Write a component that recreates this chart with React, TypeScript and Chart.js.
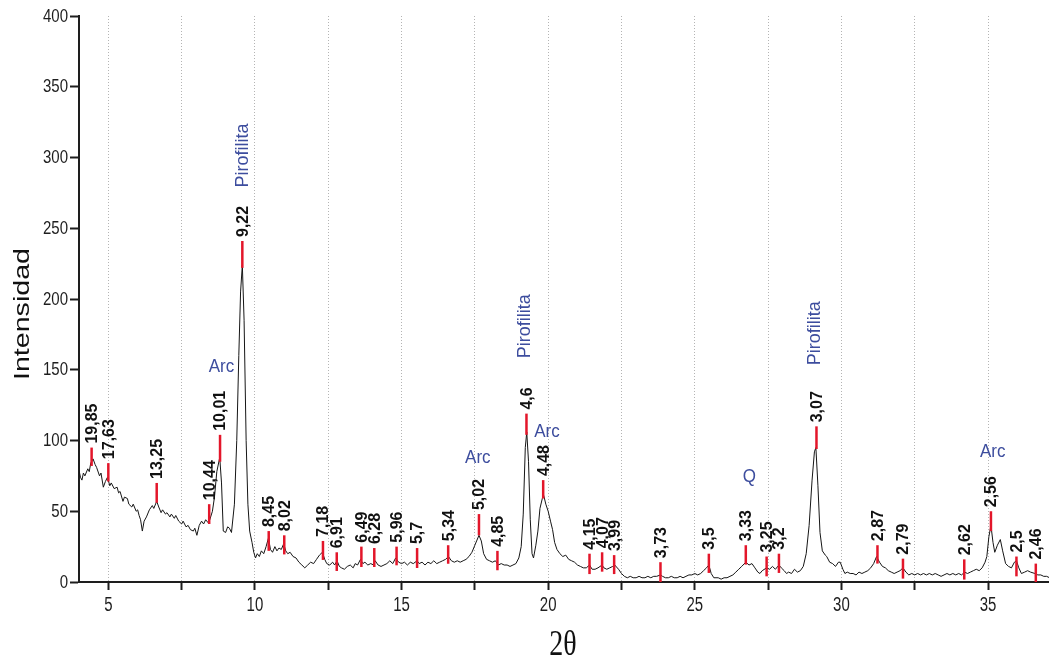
import { useEffect, useRef } from "react";
import { Chart, registerables } from "chart.js";

Chart.register(...registerables);

// ---- axis definition ----
const xRange = [4, 37.08];
const yRange = [0, 400];
const xTickValues = [5, 7.5, 10, 12.5, 15, 17.5, 20, 22.5, 25, 27.5, 30, 32.5, 35];
const xTickLabels = ["5", "", "10", "", "15", "", "20", "", "25", "", "30", "", "35"];
const yTickValues = [0, 50, 100, 150, 200, 250, 300, 350, 400];
const yTickLabels = ["0", "50", "100", "150", "200", "250", "300", "350", "400"];
const xTitle = "2θ";
const yTitle = "Intensidad";

// ---- diffractogram trace: [2θ, intensity] ----
const scan: [number, number][] = [
  [4.0, 79], [4.05, 74], [4.1, 72], [4.15, 77], [4.2, 75], [4.3, 80], [4.35, 78], [4.4, 84], [4.48, 87], [4.55, 83],
  [4.6, 81], [4.7, 75], [4.75, 77], [4.83, 67], [4.9, 71], [4.97, 74], [5.05, 68], [5.1, 70], [5.2, 66], [5.3, 67],
  [5.35, 63], [5.4, 64], [5.5, 57], [5.55, 60], [5.65, 59], [5.7, 55], [5.8, 53], [5.85, 55], [5.95, 50], [6.0, 51],
  [6.05, 47], [6.1, 44], [6.16, 36], [6.22, 43], [6.3, 46], [6.4, 51], [6.5, 54], [6.55, 52], [6.65, 57], [6.72, 53],
  [6.8, 49], [6.85, 51], [6.95, 48], [7.0, 49], [7.1, 46], [7.15, 48], [7.25, 45], [7.3, 47], [7.4, 43], [7.5, 41],
  [7.55, 43], [7.65, 39], [7.72, 40], [7.8, 37], [7.9, 36], [7.95, 38], [8.02, 33], [8.1, 40], [8.18, 43], [8.25, 41],
  [8.32, 44], [8.4, 42], [8.46, 44], [8.55, 50], [8.62, 60], [8.7, 78], [8.8, 88], [8.86, 70], [8.92, 36], [9.0, 35],
  [9.07, 39], [9.13, 38], [9.2, 35], [9.3, 55], [9.38, 100], [9.45, 160], [9.51, 205], [9.57, 224], [9.63, 185], [9.7, 100],
  [9.76, 55], [9.82, 36], [9.9, 28], [9.96, 21], [10.02, 17], [10.08, 20], [10.15, 18], [10.22, 22], [10.3, 20], [10.38, 25],
  [10.46, 31], [10.53, 23], [10.6, 21], [10.68, 25], [10.75, 22], [10.82, 24], [10.9, 23], [10.98, 27], [11.05, 22], [11.12, 20],
  [11.2, 21], [11.3, 18], [11.4, 17], [11.5, 14], [11.6, 12], [11.7, 10], [11.8, 12], [11.9, 14], [12.0, 13], [12.1, 16],
  [12.2, 19], [12.3, 21], [12.38, 16], [12.45, 13], [12.55, 12], [12.65, 14], [12.72, 12], [12.8, 15], [12.88, 11], [12.95, 10],
  [13.05, 9], [13.15, 11], [13.25, 12], [13.35, 10], [13.42, 13], [13.5, 12], [13.6, 16], [13.68, 13], [13.75, 14], [13.85, 12],
  [13.95, 13], [14.05, 12], [14.1, 15], [14.2, 12], [14.3, 11], [14.4, 12], [14.5, 13], [14.6, 15], [14.7, 13], [14.8, 17],
  [14.9, 14], [15.0, 13], [15.1, 14], [15.2, 12], [15.3, 14], [15.4, 13], [15.53, 15], [15.6, 13], [15.7, 14], [15.8, 12],
  [15.9, 14], [16.0, 13], [16.1, 15], [16.2, 13], [16.3, 14], [16.4, 15], [16.5, 16], [16.6, 18], [16.7, 15], [16.8, 14],
  [16.9, 15], [17.0, 14], [17.1, 15], [17.2, 16], [17.3, 18], [17.4, 21], [17.5, 26], [17.64, 33], [17.72, 29], [17.8, 20],
  [17.9, 16], [18.0, 15], [18.1, 14], [18.2, 15], [18.3, 12], [18.4, 13], [18.5, 12], [18.6, 12], [18.7, 11], [18.8, 12],
  [18.9, 13], [19.0, 17], [19.08, 25], [19.15, 48], [19.22, 95], [19.27, 106], [19.33, 85], [19.39, 44], [19.45, 20], [19.5, 17],
  [19.58, 26], [19.65, 36], [19.72, 52], [19.8, 59], [19.85, 61], [19.92, 55], [20.0, 50], [20.08, 43], [20.15, 37], [20.22, 28],
  [20.3, 23], [20.4, 20], [20.5, 18], [20.6, 19], [20.7, 16], [20.8, 15], [20.9, 14], [21.0, 12], [21.1, 11], [21.2, 10],
  [21.3, 10], [21.41, 12], [21.5, 9], [21.6, 9], [21.7, 10], [21.84, 12], [21.9, 10], [22.0, 9], [22.1, 10], [22.2, 11],
  [22.27, 12], [22.4, 9], [22.5, 6], [22.6, 4], [22.7, 3], [22.8, 4], [22.9, 3], [23.0, 3], [23.1, 4], [23.2, 3],
  [23.3, 3], [23.4, 4], [23.5, 3], [23.6, 4], [23.7, 4], [23.83, 5], [23.9, 4], [24.0, 3], [24.1, 3], [24.2, 4],
  [24.3, 3], [24.4, 3], [24.5, 4], [24.6, 3], [24.7, 4], [24.8, 5], [24.9, 5], [25.0, 6], [25.1, 5], [25.2, 6],
  [25.3, 8], [25.4, 10], [25.48, 12], [25.56, 6], [25.65, 3], [25.8, 3], [25.9, 2], [26.0, 3], [26.1, 3], [26.2, 4],
  [26.3, 5], [26.4, 7], [26.5, 9], [26.6, 11], [26.74, 14], [26.85, 12], [26.95, 13], [27.05, 10], [27.15, 7], [27.22, 6],
  [27.3, 8], [27.45, 10], [27.55, 9], [27.65, 11], [27.75, 9], [27.87, 12], [27.95, 10], [28.05, 8], [28.13, 6], [28.2, 7],
  [28.3, 6], [28.4, 9], [28.5, 7], [28.6, 8], [28.7, 11], [28.8, 20], [28.9, 40], [29.0, 72], [29.08, 92], [29.13, 95],
  [29.2, 68], [29.27, 35], [29.35, 22], [29.45, 19], [29.5, 18], [29.6, 14], [29.7, 13], [29.8, 11], [29.9, 14], [29.96, 14],
  [30.05, 9], [30.12, 6], [30.2, 7], [30.3, 6], [30.4, 6], [30.5, 5], [30.6, 7], [30.7, 6], [30.8, 7], [30.9, 8],
  [31.0, 10], [31.1, 13], [31.2, 18], [31.3, 14], [31.4, 11], [31.5, 10], [31.6, 8], [31.7, 7], [31.8, 6], [31.9, 7],
  [32.0, 8], [32.1, 10], [32.2, 7], [32.3, 5], [32.4, 6], [32.5, 5], [32.6, 6], [32.7, 5], [32.8, 6], [32.9, 5],
  [33.0, 6], [33.1, 5], [33.2, 6], [33.3, 5], [33.4, 4], [33.5, 5], [33.6, 6], [33.7, 5], [33.8, 6], [33.9, 5],
  [34.0, 6], [34.1, 5], [34.2, 7], [34.3, 6], [34.4, 7], [34.5, 8], [34.6, 9], [34.7, 8], [34.8, 10], [34.9, 14],
  [34.96, 18], [35.03, 32], [35.1, 40], [35.17, 28], [35.23, 21], [35.32, 26], [35.42, 30], [35.5, 22], [35.6, 13], [35.7, 11],
  [35.8, 10], [35.9, 14], [35.97, 15], [36.05, 10], [36.14, 6], [36.25, 7], [36.35, 8], [36.45, 7], [36.6, 6], [36.7, 5],
  [36.8, 5], [36.9, 4], [37.0, 4], [37.1, 3],
];

// ---- peak markers (d-spacing labels) ----
const peakLabels = ["19,85", "17,63", "13,25", "10,44", "10,01", "9,22", "8,45", "8,02", "7,18", "6,91", "6,49", "6,28",
  "5,96", "5,7", "5,34", "5,02", "4,85", "4,6", "4,48", "4,15", "4,07", "3,99", "3,73", "3,5", "3,33", "3,25", "3,2",
  "3,07", "2,87", "2,79", "2,62", "2,56", "2,5", "2,46"];
const peakAngles = [4.43, 5.0, 6.65, 8.44, 8.81, 9.57, 10.47, 11.0, 12.32, 12.79, 13.63, 14.07,
  14.83, 15.53, 16.59, 17.64, 18.27, 19.26, 19.83, 21.41, 21.84, 22.25, 23.83, 25.48, 26.74, 27.45, 27.87,
  29.15, 31.23, 32.1, 34.19, 35.1, 35.97, 36.63];
const peakTops = [95, 84, 70, 55, 104, 241, 36, 33, 29, 21, 25, 24,
  25, 24, 26, 48, 22, 119, 72, 20, 21, 19, 14, 20, 26, 18, 20,
  110, 26, 16.5, 16, 50, 18, 13];
const peakBottoms = [82, 71, 56, 41, 85, 222, 22, 19.5, 15.6, 7.8, 10.6, 10.6,
  11.8, 9.9, 12.9, 33, 8.3, 104, 59, 5.6, 7.3, 5.6, 0, 6.4, 12.3, 4, 6.4,
  94, 13, 2.4, 1.7, 36, 4, 0];

// ---- mineral phase annotations ----
const phaseNames = ["Arc", "Pirofilita", "Arc", "Pirofilita", "Arc", "Q", "Pirofilita", "Arc"];
const phaseAngles = [8.86, 9.6, 17.6, 19.21, 19.96, 26.86, 29.09, 35.16];
const phaseLevels = [152, 301.5, 87.4, 180.7, 105.8, 74.2, 175.8, 91.9];
const phaseVertical = [false, true, false, true, false, false, true, false];

const SANS = "'Liberation Sans', Arial, Helvetica, sans-serif";
const SERIF = "'Liberation Serif', 'Times New Roman', serif";
const AXIS_COLOR = "#1e1e1e";
const BLUE = "#3d4d9e";
const RED = "#e3162a";

type TextOpts = {
  font: string;
  color: string;
  align: CanvasTextAlign;
  baseline: CanvasTextBaseline;
  sx?: number;
  sy?: number;
  rot?: number;
};

function drawText(ctx: CanvasRenderingContext2D, text: string, x: number, y: number, o: TextOpts) {
  ctx.save();
  ctx.translate(x, y);
  ctx.scale(o.sx ?? 1, o.sy ?? 1);
  if (o.rot) ctx.rotate(o.rot);
  ctx.font = o.font;
  ctx.fillStyle = o.color;
  ctx.textAlign = o.align;
  ctx.textBaseline = o.baseline;
  ctx.fillText(text, 0, 0);
  ctx.restore();
}

const annotationPlugin = {
  id: "xrdAnnotations",
  afterDatasetsDraw(chart: any) {
    const ctx: CanvasRenderingContext2D = chart.ctx;
    const xs = chart.scales.x;
    const ys = chart.scales.y;

    // red peak markers
    ctx.save();
    ctx.strokeStyle = RED;
    ctx.lineWidth = 2.5;
    ctx.lineCap = "butt";
    peakAngles.forEach((a, i) => {
      const px = xs.getPixelForValue(a);
      ctx.beginPath();
      ctx.moveTo(px, ys.getPixelForValue(peakBottoms[i]));
      ctx.lineTo(px, ys.getPixelForValue(peakTops[i]));
      ctx.stroke();
    });
    ctx.restore();

    // d-spacing labels
    peakAngles.forEach((a, i) => {
      const px = xs.getPixelForValue(a);
      const py = ys.getPixelForValue(peakTops[i]) - 4;
      drawText(ctx, peakLabels[i], px + 1, py, {
        font: `bold 16px ${SANS}`,
        color: "#111",
        align: "left",
        baseline: "middle",
        rot: -Math.PI / 2,
      });
    });

    // phase names
    phaseNames.forEach((n, i) => {
      const px = xs.getPixelForValue(phaseAngles[i]);
      const py = ys.getPixelForValue(phaseLevels[i]);
      drawText(ctx, n, px, py, {
        font: `${phaseVertical[i] ? 18 : 17}px ${SANS}`,
        color: BLUE,
        align: "center",
        baseline: "middle",
        sy: phaseVertical[i] ? 1 : 1.1,
        rot: phaseVertical[i] ? -Math.PI / 2 : 0,
      });
    });
  },
  afterDraw(chart: any) {
    const ctx: CanvasRenderingContext2D = chart.ctx;
    const xs = chart.scales.x;
    const ys = chart.scales.y;
    const area = chart.chartArea;

    // y tick labels
    yTickValues.forEach((v, i) => {
      drawText(ctx, yTickLabels[i], area.left - 11, ys.getPixelForValue(v) + 0.5, {
        font: `15px ${SANS}`,
        color: AXIS_COLOR,
        align: "right",
        baseline: "middle",
        sy: 1.25,
      });
    });
    // x tick labels
    xTickValues.forEach((v, i) => {
      if (!xTickLabels[i]) return;
      drawText(ctx, xTickLabels[i], xs.getPixelForValue(v), area.bottom + 24, {
        font: `15px ${SANS}`,
        color: AXIS_COLOR,
        align: "center",
        baseline: "middle",
        sy: 1.3,
      });
    });
    // axis titles
    drawText(ctx, yTitle, 28.5, 314, {
      font: `22px ${SANS}`,
      color: "#111",
      align: "center",
      baseline: "alphabetic",
      sy: 1.3,
      rot: -Math.PI / 2,
    });
    drawText(ctx, xTitle, 563, 655, {
      font: `28px ${SERIF}`,
      color: "#111",
      align: "center",
      baseline: "alphabetic",
      sy: 1.3,
    });
  },
};

export default function App() {
  const canvasRef = useRef<HTMLCanvasElement | null>(null);

  useEffect(() => {
    if (!canvasRef.current) return;
    const chart = new Chart(canvasRef.current, {
      type: "line",
      data: {
        datasets: [
          {
            label: "XRD",
            data: scan.map(([x, y]) => ({ x, y })),
            borderColor: "#151515",
            borderWidth: 1,
            pointRadius: 0,
            tension: 0,
            fill: false,
          },
        ],
      },
      options: {
        animation: false,
        responsive: false,
        maintainAspectRatio: false,
        layout: { padding: { top: 16, left: 0, right: 0, bottom: 0 } },
        plugins: {
          legend: { display: false },
          tooltip: { enabled: false },
          title: { display: false },
        },
        scales: {
          x: {
            type: "linear",
            min: xRange[0],
            max: xRange[1],
            afterBuildTicks: (s: any) => {
              s.ticks = xTickValues.map((v) => ({ value: v }));
            },
            afterFit: (s: any) => {
              s.height = 83;
            },
            ticks: { display: false },
            grid: {
              display: true,
              drawOnChartArea: true,
              drawTicks: true,
              color: "#b4b4b4",
              lineWidth: 1,
              tickLength: 8,
              tickColor: AXIS_COLOR,
              tickWidth: 2,
            },
            border: { display: true, color: AXIS_COLOR, width: 2, dash: [1, 2] },
          },
          y: {
            type: "linear",
            min: yRange[0],
            max: yRange[1],
            afterBuildTicks: (s: any) => {
              s.ticks = yTickValues.map((v) => ({ value: v }));
            },
            afterFit: (s: any) => {
              s.width = 79;
            },
            ticks: { display: false },
            grid: {
              display: true,
              drawOnChartArea: false,
              drawTicks: true,
              tickLength: 9,
              tickColor: AXIS_COLOR,
              tickWidth: 2,
            },
            border: { display: true, color: AXIS_COLOR, width: 2 },
          },
        },
      } as any,
      plugins: [annotationPlugin],
    });
    return () => chart.destroy();
  }, []);

  return (
    <div style={{ position: "absolute", left: 0, top: 0, width: 1049, height: 665, background: "#fff" }}>
      <canvas ref={canvasRef} width={1049} height={665} style={{ display: "block" }} />
    </div>
  );
}
